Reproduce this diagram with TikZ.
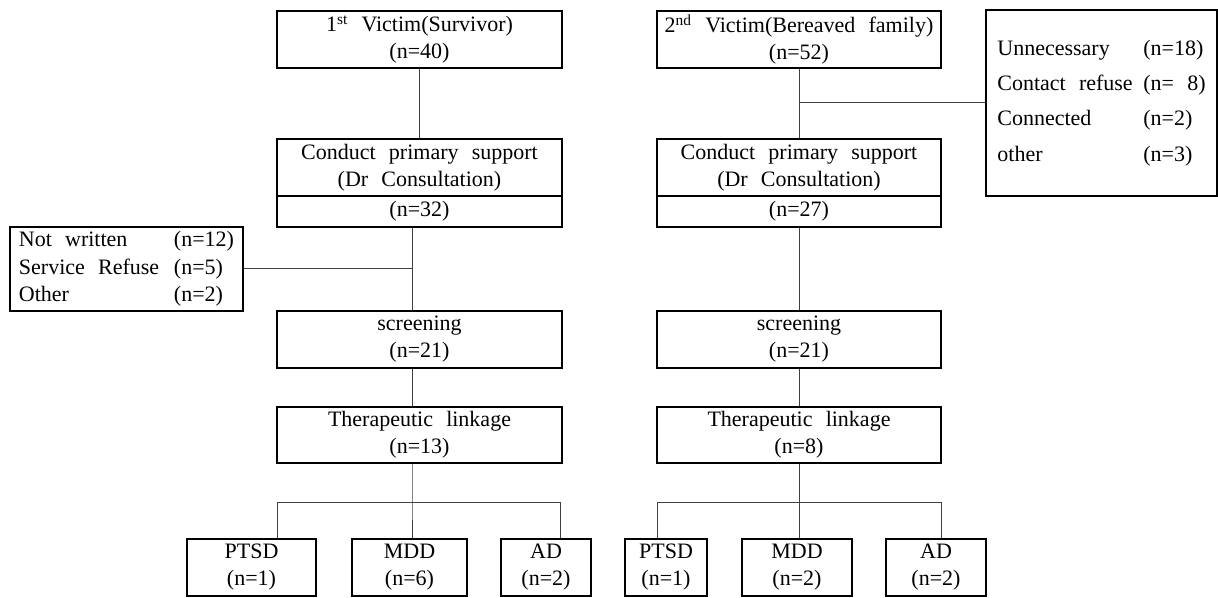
\documentclass[tikz,border=0pt]{standalone}
\usepackage{fontspec}
\setmainfont{Liberation Serif}[WordSpace=2.4]
\newcommand{\Row}[3]{\makebox[#1][l]{#2}#3}
\newcommand{\boxfont}{\fontsize{11}{13.5}\selectfont}

\begin{document}
\begin{tikzpicture}[x=0.5pt, y=-0.5pt,
    font=\boxfont,
    wh/.style args={#1/#2}{minimum width=#1*0.5pt, minimum height=#2*0.5pt},
    box/.style={draw, line width=0.6pt, align=center, inner sep=0pt},
    link/.style={draw=black!75, line width=0.5pt}]

  \useasboundingbox (0,0) rectangle (1218,598);

  %% 1st victim column
  \node[box, wh=285/57] (v1) at (419.5, 39.5) {1\textsuperscript{st} Victim(Survivor)\\(n=40)};
  \node[box, wh=285/57] (c1) at (419.5,167.5) {Conduct primary support\\(Dr Consultation)};
  \node[box, wh=285/31] (c1n) at (419.5,211.5) {(n=32)};
  \node[box, wh=285/57] (s1) at (419.5,339.5) {screening\\(n=21)};
  \node[box, wh=285/56] (t1) at (419.5,435) {Therapeutic linkage\\(n=13)};
  \node[box, wh=233/84, align=left, font=\fontsize{11}{13.75}\selectfont] (o1) at (126.5,269)
    {\Row{77.5pt}{Not written}{(n=12)}\\ \Row{77.5pt}{Service Refuse}{(n=5)}\\ \Row{77.5pt}{Other}{(n=2)}};
  \node[box, wh=129/57] (p1) at (251.5,567.5) {PTSD\\(n=1)};
  \node[box, wh=115/57] (m1) at (409.5,567.5) {MDD\\(n=6)};
  \node[box, wh=90/57] (a1) at (546,567.5) {AD\\(n=2)};

  %% 2nd victim column
  \node[box, wh=284/57] (v2) at (799, 39.5) {2\textsuperscript{nd} Victim(Bereaved family)\\(n=52)};
  \node[box, wh=284/57] (c2) at (799,167.5) {Conduct primary support\\(Dr Consultation)};
  \node[box, wh=284/31] (c2n) at (799,211.5) {(n=27)};
  \node[box, wh=284/57] (s2) at (799,339.5) {screening\\(n=21)};
  \node[box, wh=284/56] (t2) at (799,435) {Therapeutic linkage\\(n=8)};
  \node[box, wh=231/186, align=left, font=\fontsize{11}{17.6}\selectfont] (o2) at (1101.5,103)
    {\Row{73pt}{Unnecessary}{(n=18)}\\ \Row{73pt}{Contact refuse}{(n=~8)}\\ \Row{73pt}{Connected}{(n=2)}\\ \Row{73pt}{other}{(n=3)}};
  \node[box, wh=82/57] (p2) at (666,567.5) {PTSD\\(n=1)};
  \node[box, wh=110/57] (m2) at (797,567.5) {MDD\\(n=2)};
  \node[box, wh=100/57] (a2) at (936,567.5) {AD\\(n=2)};

  %% junctions
  \coordinate (b1) at (412,502);
  \coordinate (b1l) at (277,502);
  \coordinate (b1r) at (560,502);
  \coordinate (r2) at (799,103);
  \coordinate (b2) at (799,502);
  \coordinate (b2l) at (657,502);
  \coordinate (b2r) at (941,502);

  %% left links
  \draw[link] (v1.south) -- (c1.north);
  \draw[link] (c1n.south -| b1) -- (s1.north -| b1);
  \draw[link] (o1.east) -- (o1.east -| b1); %% o1->trunk
  \draw[link] (s1.south -| b1) -- (t1.north -| b1);
  \draw[link] (t1.south -| b1) -- (b1) -- (m1.north -| b1);
  \draw[link] (p1.north -| b1l) -- (b1l) -- (b1r) -- (a1.north -| b1r);

  %% right links
  \draw[link] (v2.south) -- (c2.north);
  \draw[link] (r2) -- (o2.west); %% trunk->o2
  \draw[link] (c2n.south) -- (s2.north);
  \draw[link] (s2.south) -- (t2.north);
  \draw[link] (t2.south) -- (b2) -- (m2.north -| b2);
  \draw[link] (p2.north -| b2l) -- (b2l) -- (b2r) -- (a2.north -| b2r);

\end{tikzpicture}
\end{document}
